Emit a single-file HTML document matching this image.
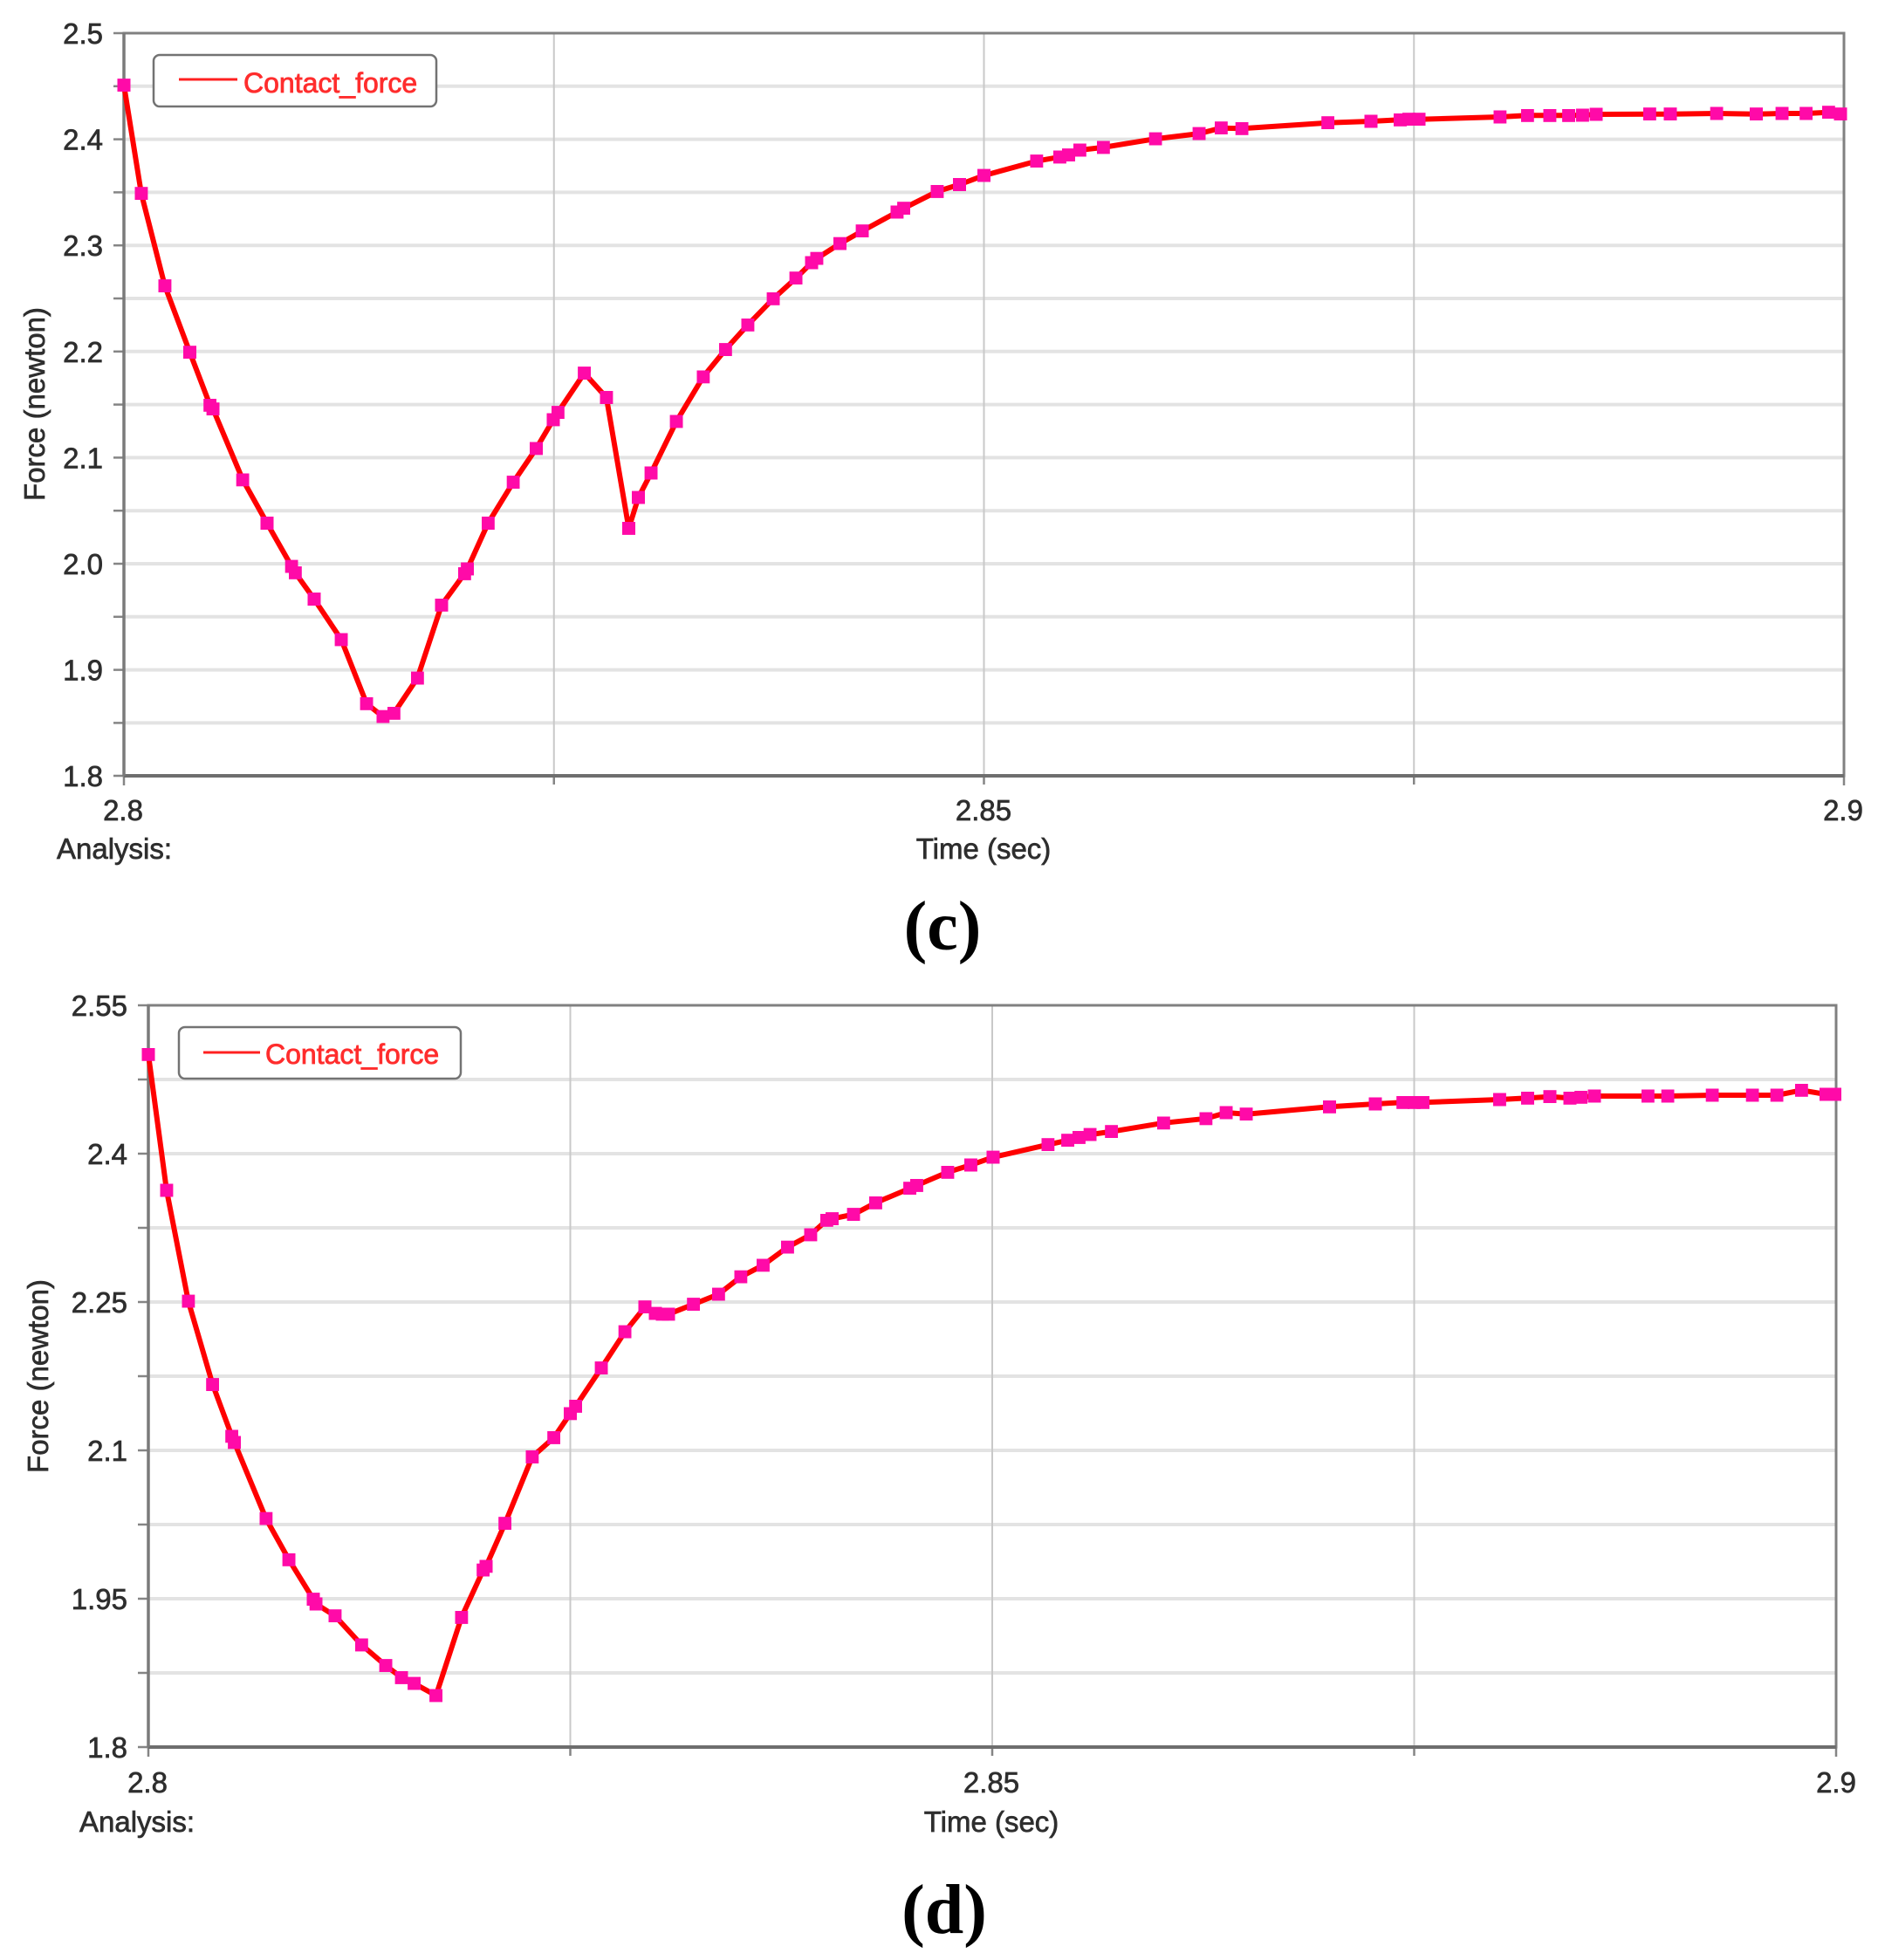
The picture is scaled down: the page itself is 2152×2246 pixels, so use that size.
<!DOCTYPE html>
<html>
<head>
<meta charset="utf-8">
<style>
  html,body{margin:0;padding:0;background:#fff;}
  svg{display:block;}
  .tk{font-family:"Liberation Sans",Arial,sans-serif;font-size:33px;fill:#2e2e2e;stroke:#2e2e2e;stroke-width:0.7px;}
  .lg{font-family:"Liberation Sans",Arial,sans-serif;font-size:32px;fill:#ff2d2d;stroke:#ff2d2d;stroke-width:0.8px;}
  .cap{font-family:"Liberation Serif","Times New Roman",serif;font-size:80px;font-weight:bold;fill:#000;}
</style>
</head>
<body>
<svg width="2152" height="2246" viewBox="0 0 2152 2246" xmlns="http://www.w3.org/2000/svg">
  <defs>
    <marker id="m" markerWidth="15" markerHeight="15" refX="7.5" refY="7.5" markerUnits="userSpaceOnUse">
      <rect x="0" y="0" width="15" height="15" fill="#ff0aa8"/>
    </marker>
  </defs>
  <rect width="2152" height="2246" fill="#fff"/>

  <!-- ================= CHART (c) ================= -->
  <g>
    <g stroke="#e3e3e3" stroke-width="4">
      <line x1="142" y1="98.8" x2="2113" y2="98.8"/>
      <line x1="142" y1="159.6" x2="2113" y2="159.6"/>
      <line x1="142" y1="220.4" x2="2113" y2="220.4"/>
      <line x1="142" y1="281.2" x2="2113" y2="281.2"/>
      <line x1="142" y1="342" x2="2113" y2="342"/>
      <line x1="142" y1="402.8" x2="2113" y2="402.8"/>
      <line x1="142" y1="463.6" x2="2113" y2="463.6"/>
      <line x1="142" y1="524.4" x2="2113" y2="524.4"/>
      <line x1="142" y1="585.2" x2="2113" y2="585.2"/>
      <line x1="142" y1="646" x2="2113" y2="646"/>
      <line x1="142" y1="706.8" x2="2113" y2="706.8"/>
      <line x1="142" y1="767.6" x2="2113" y2="767.6"/>
      <line x1="142" y1="828.4" x2="2113" y2="828.4"/>
    </g>
    <g stroke="#c9c9c9" stroke-width="2">
      <line x1="634.75" y1="38" x2="634.75" y2="889"/>
      <line x1="1127.5" y1="38" x2="1127.5" y2="889"/>
      <line x1="1620.25" y1="38" x2="1620.25" y2="889"/>
    </g>
    <g stroke="#858585" stroke-width="2.5">
      <line x1="130" y1="38" x2="142" y2="38"/>
      <line x1="130" y1="98.8" x2="142" y2="98.8"/>
      <line x1="130" y1="159.6" x2="142" y2="159.6"/>
      <line x1="130" y1="220.4" x2="142" y2="220.4"/>
      <line x1="130" y1="281.2" x2="142" y2="281.2"/>
      <line x1="130" y1="342" x2="142" y2="342"/>
      <line x1="130" y1="402.8" x2="142" y2="402.8"/>
      <line x1="130" y1="463.6" x2="142" y2="463.6"/>
      <line x1="130" y1="524.4" x2="142" y2="524.4"/>
      <line x1="130" y1="585.2" x2="142" y2="585.2"/>
      <line x1="130" y1="646" x2="142" y2="646"/>
      <line x1="130" y1="706.8" x2="142" y2="706.8"/>
      <line x1="130" y1="767.6" x2="142" y2="767.6"/>
      <line x1="130" y1="828.4" x2="142" y2="828.4"/>
      <line x1="130" y1="889" x2="142" y2="889"/>
      <line x1="142" y1="889" x2="142" y2="900"/>
      <line x1="634.75" y1="889" x2="634.75" y2="899"/>
      <line x1="1127.5" y1="889" x2="1127.5" y2="899"/>
      <line x1="1620.25" y1="889" x2="1620.25" y2="899"/>
      <line x1="2113" y1="889" x2="2113" y2="900"/>
    </g>
    <rect x="142" y="38" width="1971" height="851" fill="none" stroke="#808080" stroke-width="3"/>
    <line x1="142" y1="889" x2="2113" y2="889" stroke="#6e6e6e" stroke-width="4"/>
    <line x1="142" y1="38" x2="142" y2="889" stroke="#7a7a7a" stroke-width="3.5"/>

    <g class="tk" text-anchor="end">
      <text x="118" y="50">2.5</text>
      <text x="118" y="171.6">2.4</text>
      <text x="118" y="293.2">2.3</text>
      <text x="118" y="414.8">2.2</text>
      <text x="118" y="536.4">2.1</text>
      <text x="118" y="658">2.0</text>
      <text x="118" y="779.6">1.9</text>
      <text x="118" y="901">1.8</text>
    </g>
    <text class="tk" text-anchor="middle" transform="translate(51,463) rotate(-90)">Force (newton)</text>
    <g class="tk" text-anchor="middle">
      <text x="141" y="940">2.8</text>
      <text x="1127" y="940">2.85</text>
      <text x="2112" y="940">2.9</text>
      <text x="1127" y="984">Time (sec)</text>
    </g>
    <text class="tk" x="65" y="984">Analysis:</text>

    <rect x="176" y="63" width="324" height="59" rx="7" ry="7" fill="#fff" stroke="#737373" stroke-width="2.5"/>
    <line x1="205" y1="91" x2="272" y2="91" stroke="#ff2020" stroke-width="3"/>
    <text class="lg" x="279" y="106">Contact_force</text>

    <polyline fill="none" stroke="#ff0000" stroke-width="6" stroke-linejoin="round"
      marker-start="url(#m)" marker-mid="url(#m)" marker-end="url(#m)"
      points="142,97.6 161.9,221.7 188.9,327.6 217.5,403.7 240.7,464.3 244.1,468.7 278.2,549.8 306,599.5 334.2,649.1 338.3,656.3 360,686.5 391.1,732.9 420.1,806.3 438.8,821.2 451.3,817.3 478.3,777.1 506,693.3 532.3,657.4 535.6,651.9 559.3,599.5 588.2,552.6 614.5,513.9 634,480.9 639.3,472.6 669.6,427.6 694.9,455.5 720.5,605.4 731.5,570.1 746.1,542 775.1,482.9 805.8,431.8 831.3,400.6 856.9,372.3 886.1,342.3 912.1,318.7 930,301 935.9,296.2 962.5,279.2 988.1,264.7 1027.9,243 1035.6,238.7 1073.9,219.4 1099.5,211.5 1127.5,201.1 1187.8,184.6 1214.4,179.9 1224.5,177.6 1237.3,172 1264.3,168.9 1324.2,159.1 1374.1,153.1 1399.3,146.7 1423.2,147.3 1521.7,140.7 1571,139 1604.5,137.3 1614.4,136.7 1626.2,136.7 1718.8,134 1750.3,132.3 1775.9,132.3 1797.6,132.3 1813.4,132 1829.1,131 1890.3,130.7 1914,130.7 1967.2,130 2012.5,130.7 2042.1,130 2069.7,130 2095.3,128.7 2109,130.7"/>

    <text class="cap" x="1080" y="1088" text-anchor="middle">(c)</text>
  </g>

  <!-- ================= CHART (d) ================= -->
  <g>
    <g stroke="#e3e3e3" stroke-width="4">
      <line x1="170" y1="1237" x2="2104" y2="1237"/>
      <line x1="170" y1="1322" x2="2104" y2="1322"/>
      <line x1="170" y1="1407" x2="2104" y2="1407"/>
      <line x1="170" y1="1492" x2="2104" y2="1492"/>
      <line x1="170" y1="1577" x2="2104" y2="1577"/>
      <line x1="170" y1="1662" x2="2104" y2="1662"/>
      <line x1="170" y1="1747" x2="2104" y2="1747"/>
      <line x1="170" y1="1832" x2="2104" y2="1832"/>
      <line x1="170" y1="1917" x2="2104" y2="1917"/>
    </g>
    <g stroke="#c9c9c9" stroke-width="2">
      <line x1="653.5" y1="1152" x2="653.5" y2="2002"/>
      <line x1="1137" y1="1152" x2="1137" y2="2002"/>
      <line x1="1620.5" y1="1152" x2="1620.5" y2="2002"/>
    </g>
    <g stroke="#858585" stroke-width="2.5">
      <line x1="158" y1="1152" x2="170" y2="1152"/>
      <line x1="158" y1="1237" x2="170" y2="1237"/>
      <line x1="158" y1="1322" x2="170" y2="1322"/>
      <line x1="158" y1="1407" x2="170" y2="1407"/>
      <line x1="158" y1="1492" x2="170" y2="1492"/>
      <line x1="158" y1="1577" x2="170" y2="1577"/>
      <line x1="158" y1="1662" x2="170" y2="1662"/>
      <line x1="158" y1="1747" x2="170" y2="1747"/>
      <line x1="158" y1="1832" x2="170" y2="1832"/>
      <line x1="158" y1="1917" x2="170" y2="1917"/>
      <line x1="158" y1="2002" x2="170" y2="2002"/>
      <line x1="170" y1="2002" x2="170" y2="2013"/>
      <line x1="653.5" y1="2002" x2="653.5" y2="2012"/>
      <line x1="1137" y1="2002" x2="1137" y2="2012"/>
      <line x1="1620.5" y1="2002" x2="1620.5" y2="2012"/>
      <line x1="2104" y1="2002" x2="2104" y2="2013"/>
    </g>
    <rect x="170" y="1152" width="1934" height="850" fill="none" stroke="#808080" stroke-width="3"/>
    <line x1="170" y1="2002" x2="2104" y2="2002" stroke="#6e6e6e" stroke-width="4"/>
    <line x1="170" y1="1152" x2="170" y2="2002" stroke="#7a7a7a" stroke-width="3.5"/>

    <g class="tk" text-anchor="end">
      <text x="146" y="1164">2.55</text>
      <text x="146" y="1334">2.4</text>
      <text x="146" y="1504">2.25</text>
      <text x="146" y="1674">2.1</text>
      <text x="146" y="1844">1.95</text>
      <text x="146" y="2014">1.8</text>
    </g>
    <text class="tk" text-anchor="middle" transform="translate(55,1577) rotate(-90)">Force (newton)</text>
    <g class="tk" text-anchor="middle">
      <text x="169" y="2054">2.8</text>
      <text x="1136" y="2054">2.85</text>
      <text x="2104" y="2054">2.9</text>
      <text x="1136" y="2099">Time (sec)</text>
    </g>
    <text class="tk" x="91" y="2099">Analysis:</text>

    <rect x="205" y="1177" width="323" height="59" rx="7" ry="7" fill="#fff" stroke="#737373" stroke-width="2.5"/>
    <line x1="233" y1="1206" x2="298" y2="1206" stroke="#ff2020" stroke-width="3"/>
    <text class="lg" x="304" y="1219">Contact_force</text>

    <polyline fill="none" stroke="#ff0000" stroke-width="6" stroke-linejoin="round"
      marker-start="url(#m)" marker-mid="url(#m)" marker-end="url(#m)"
      points="170,1208.3 190.9,1364 215.8,1491.1 243.7,1586.6 265.7,1645.8 268.6,1652.9 304.8,1740.2 331.1,1787.3 359,1832.6 362.2,1838 383.9,1851.7 414.3,1884.9 442.1,1908.6 460.1,1922.4 474.6,1929.1 499.6,1942.9 528.8,1853.4 553.7,1799.2 557,1794.8 578.7,1745.7 609.8,1669.5 634.7,1647.4 653.5,1619.8 659.7,1611.4 689.1,1567.6 716.2,1526.1 739,1497.7 751,1505.1 759,1505.9 766,1505.9 794.7,1494.6 823.3,1483.1 848.8,1463.2 874.4,1449.8 902.4,1429.2 928.9,1414.9 947.3,1398.3 953.5,1396.6 978.1,1391.6 1003.4,1378.3 1042.6,1361.7 1050.4,1358.4 1085.9,1343.3 1112.4,1335 1138,1326.1 1200.8,1311.7 1223.6,1306.7 1236.4,1303.4 1249.2,1300.1 1273.7,1296.7 1333.3,1286.8 1381.8,1281.8 1405.1,1275 1428.1,1276.7 1523.5,1268.3 1576,1265 1607.7,1263.3 1620.4,1263.3 1630.6,1263.3 1718.4,1260 1750.5,1258.3 1776,1256.7 1799,1258.3 1811.7,1257.3 1827,1256 1888.3,1256 1911.2,1256 1962.2,1255 2008.2,1255 2036.2,1255 2064.3,1249.3 2092.3,1254 2102.6,1254"/>

    <text class="cap" x="1082" y="2215" text-anchor="middle">(d)</text>
  </g>
</svg>
</body>
</html>
